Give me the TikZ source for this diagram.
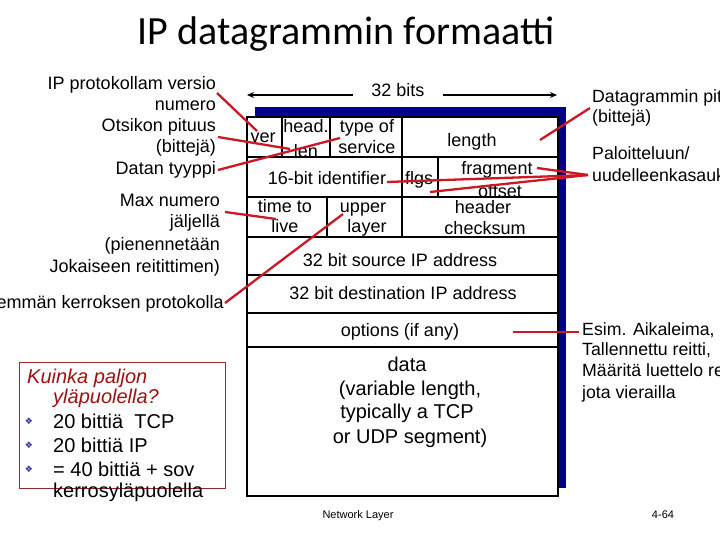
\documentclass[tikz,border=0pt]{standalone}
\usepackage{fontspec}
\setmainfont{Liberation Sans}
\newfontfamily\titlefont{Carlito}
\newfontfamily\symfont{DejaVu Sans}
\usetikzlibrary{arrows.meta}
\definecolor{lred}{RGB}{204,24,36}
\definecolor{navyb}{RGB}{0,0,140}
\definecolor{boxred}{RGB}{150,40,40}
\definecolor{kred}{RGB}{160,16,16}
\definecolor{bulblue}{RGB}{40,40,140}
\begin{document}
\begin{tikzpicture}[x=1pt,y=-1pt,
  lab/.style={inner sep=0pt, anchor=base east, font=\fontsize{18}{21.6}\selectfont},
  cell/.style={inner sep=0pt, anchor=base, font=\fontsize{18}{21.6}\selectfont},
  datacell/.style={inner sep=0pt, anchor=base, font=\fontsize{20}{24}\selectfont},
  rlab/.style={inner sep=0pt, anchor=base west, font=\fontsize{17.7}{21}\selectfont},
  boxtxt/.style={inner sep=0pt, anchor=base west, font=\fontsize{20}{22}\selectfont},
  bul/.style={inner sep=0pt, text=bulblue, font=\symfont\fontsize{9}{9}\selectfont},
  foot/.style={inner sep=0pt, anchor=base, font=\fontsize{11}{13}\selectfont},
  redline/.style={draw=lred, line width=2.3pt},
  gridline/.style={line width=2.5pt},
  bitarrow/.style={line width=1.6pt, -{Stealth[length=7pt,width=6pt]}}]
\useasboundingbox (0,0) rectangle (720,540);
\clip (0,0) rectangle (720,540);

% title
\node[inner sep=0pt, anchor=base, font=\titlefont\fontsize{40}{48}\selectfont] (title) at (346,45) {IP datagrammin formaatti};

% header frame
\fill[navyb] (255,107) rectangle (566,488);
\fill[white] (247,117) rectangle (558,496);

% 32 bits
\node[cell] (bits) at (398,97) {32 bits};
\coordinate (aL1) at (353,95); \coordinate (aL2) at (247,95);
\coordinate (aR1) at (443,95); \coordinate (aR2) at (557,95);
\draw[bitarrow] (aL1) -- (aL2);
\draw[bitarrow] (aR1) -- (aR2);

% cells
\node[cell] (ver) at (263,143) {ver};
\node[cell] (head) at (306,133) {head.};
\node[cell] (len) at (306,158) {len};
\node[cell] (tos1) at (367,133) {type of};
\node[cell] (tos2) at (367,154) {service};
\node[cell] (length) at (472,147) {length};
\node[cell] (ident) at (327,185) {16-bit identifier};
\node[cell] (flgs) at (419,185) {flgs};
\node[cell] (frag1) at (497,175) {fragment};
\node[cell] (frag2) at (500,198) {offset};
\node[cell] (ttl1) at (285,212) {time to};
\node[cell] (ttl2) at (285,233) {live};
\node[cell] (up1) at (363,212) {upper};
\node[cell] (up2) at (367,233) {layer};
\node[cell] (hc1) at (483,214) {header};
\node[cell] (hc2) at (485,235) {checksum};
\node[cell] (src) at (400,266) {32 bit source IP address};
\node[cell] (dst) at (403,299) {32 bit destination IP address};
\node[cell] (opt) at (400,336) {options (if any)};
\node[datacell] (d1) at (407,371) {data};
\node[datacell] (d2) at (410,395) {(variable length,};
\node[datacell] (d3) at (407,418) {typically a TCP};
\node[datacell] (d4) at (410,443) {or UDP segment)};

% grid
\draw[gridline] (247,117) rectangle (558,496);
\foreach \yy in {157,197,237,275,313,347}
  \draw[gridline] (247,\yy) -- (558,\yy);
\draw[gridline] (282,117) -- (282,157);
\draw[gridline] (330,117) -- (330,157);
\draw[gridline] (402,117) -- (402,237);
\draw[gridline] (438,157) -- (438,197);
\draw[gridline] (327,197) -- (327,237);

% left labels
\node[lab] (l1) at (216,90) {IP protokollam versio};
\node[lab] (l2) at (216,111) {numero};
\node[lab] (l3) at (216,132) {Otsikon pituus};
\node[lab] (l4) at (216,153) {(bittejä)};
\node[lab] (l5) at (216,175) {Datan tyyppi};
\node[lab] (l6) at (220,207) {Max numero};
\node[lab] (l7) at (220,228) {jäljellä};
\node[lab] (l8) at (220,250) {(pienennetään};
\node[lab] (l9) at (220,272) {Jokaiseen reitittimen)};
\node[lab] (l10) at (224,308) {Ylemmän kerroksen protokolla};

% right labels
\node[rlab] (r1) at (592,103) {Datagrammin pituus};
\node[rlab] (r2) at (592,123) {(bittejä)};
\node[rlab] (r3) at (592,160) {Paloitteluun/};
\node[rlab] (r4) at (592,182) {uudelleenkasaukseen};
\node[rlab] (r5) at (582,335) {Esim. Aikaleima,};
\node[rlab] (r6) at (582,355) {Tallennettu reitti,};
\node[rlab] (r7) at (582,376) {Määritä luettelo reitittimistä,};
\node[rlab] (r8) at (582,398) {jota vierailla};

% red connectors
\coordinate (c1a) at (217,93);  \coordinate (c1b) at (257,131);
\coordinate (c2a) at (218,137); \coordinate (c2b) at (290,149);
\coordinate (c3a) at (218,170); \coordinate (c3b) at (340,138);
\coordinate (c4a) at (225,212); \coordinate (c4b) at (276,219);
\coordinate (c5a) at (225,303); \coordinate (c5b) at (343,214);
\coordinate (c6a) at (590,108); \coordinate (c6b) at (540,140);
\coordinate (c7a) at (588,175); \coordinate (c7b) at (537,168);
\coordinate (c7c) at (387,182); \coordinate (c7d) at (430,192);
\coordinate (c8a) at (513,332); \coordinate (c8b) at (579,332);
\draw[redline] (c1a) -- (c1b);
\draw[redline] (c2a) -- (c2b);
\draw[redline] (c3a) -- (c3b);
\draw[redline] (c4a) -- (c4b);
\draw[redline] (c5a) -- (c5b);
\draw[redline] (c6a) -- (c6b);
\draw[redline] (c7a) -- (c7b);
\draw[redline] (c7a) -- (c7c);
\draw[redline] (c7a) -- (c7d);
\draw[redline] (c8a) -- (c8b);

% box
\draw[boxred, line width=0.8pt] (19,362) rectangle (225,488);
\node[boxtxt, text=kred, font=\fontsize{20}{22}\selectfont\itshape] (k1) at (27,383) {Kuinka paljon};
\node[boxtxt, text=kred, font=\fontsize{20}{22}\selectfont\itshape] (k2) at (53,403) {yläpuolella?};
\node[bul] (b1) at (29,421) {❖};
\node[bul] (b2) at (29,445) {❖};
\node[bul] (b3) at (29,469) {❖};
\node[boxtxt] (k3) at (53,428) {20 bittiä\ \ TCP};
\node[boxtxt] (k4) at (53,452) {20 bittiä IP};
\node[boxtxt] (k5) at (53,476) {= 40 bittiä + sov};
\node[boxtxt] (k6) at (53,497) {kerrosyläpuolella};

% footer
\node[foot] (nl) at (358,518) {Network Layer};
\node[foot] (pg) at (663,518) {4-64};
\end{tikzpicture}
\end{document}
